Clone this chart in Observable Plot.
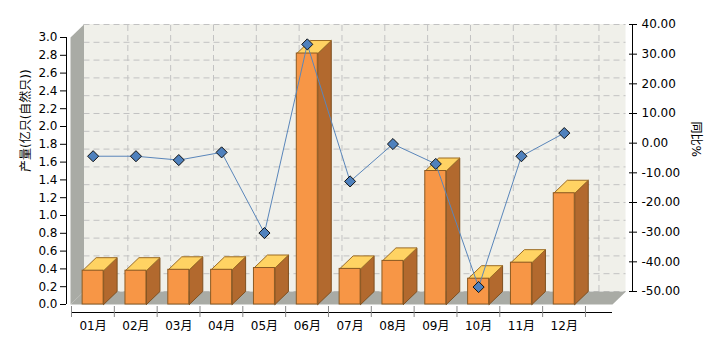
<!DOCTYPE html>
<html><head><meta charset="utf-8">
<script src="https://cdn.jsdelivr.net/npm/d3@7"></script>
<script src="https://cdn.jsdelivr.net/npm/@observablehq/plot@0.6"></script>
<style>body{margin:0;background:#fff}</style>
</head><body><div id="chart"></div>
<script>
// ---- data ----
const months = ["01月","02月","03月","04月","05月","06月","07月","08月","09月","10月","11月","12月"];
const output = [0.38,0.38,0.39,0.39,0.41,2.82,0.40,0.49,1.50,0.29,0.47,1.25];
const yoy = [-4.4,-4.4,-5.7,-3.1,-30.3,33.3,-12.9,-0.3,-7.0,-48.5,-4.4,3.4];
const leftTicks = [0,0.2,0.4,0.6,0.8,1.0,1.2,1.4,1.6,1.8,2.0,2.2,2.4,2.6,2.8,3.0];
const rightTicks = [-50,-40,-30,-20,-10,0,10,20,30,40];
const yTitle = "产量(亿只(自然只))";
const y2Title = "同比%";

// ---- layout ----
const W = 720, H = 340, mL = 66, mR = 88, mT = 37, mB = 28;
const x0px = 71, bandPx = 42.83, zeroPx = 304, yUnitPx = (zeroPx - mT) / 3;
const xDomain = [-(x0px - mL) / bandPx, (W - mR - x0px) / bandPx];
const yDomain = [-(H - mB - zeroPx) / yUnitPx, 3];
const DX = 13.5, DY = 13;                       // 3D depth (px)
const ddx = DX / bandPx, ddy = DY / yUnitPx;     // same depth in data units
const fx0 = -1 / bandPx, fx1 = (612 - x0px) / bandPx;
const barL = 0.26, barR = 0.75, mid = 0.505;
const r2l = d3.scaleLinear([-50, 40], [0, 3]);

const rows = months.map((m, i) => ({m, i, v: output[i], p: yoy[i]}));
const bounds = months.map((m, i) => i).concat([months.length]);
const poly = (id, pts) => [...pts, pts[0]].map(([x, y]) => ({id, x, y}));
const sides = rows.flatMap(d => poly(d.m, [[d.i+barR,0],[d.i+barR,d.v],[d.i+barR+ddx,d.v+ddy],[d.i+barR+ddx,ddy]]));
const tops = rows.flatMap(d => poly(d.m, [[d.i+barL,d.v],[d.i+barR,d.v],[d.i+barR+ddx,d.v+ddy],[d.i+barL+ddx,d.v+ddy]]));
const leftWall = poly("lw", [[fx0,0],[fx0,3],[fx0+ddx,3+ddy],[fx0+ddx,ddy]]);
const floor = poly("fl", [[fx0,0],[fx1,0],[fx1+ddx,ddy],[fx0+ddx,ddy]]);

const chart = Plot.plot({
  width: W, height: H,
  marginLeft: mL, marginRight: mR, marginTop: mT, marginBottom: mB,
  x: {type: "linear", domain: xDomain, axis: null},
  y: {type: "linear", domain: yDomain, axis: null},
  style: {fontFamily: "'DejaVu Sans', 'Noto Sans CJK SC', sans-serif", fontSize: "12px", background: "#fff", color: "#000"},
  marks: [
    Plot.rect([0], {x1: fx0, x2: fx1, y1: 0, y2: 3, dx: DX, dy: -DY, fill: "#f0f0ea"}),
    Plot.ruleY(leftTicks, {x1: fx0, x2: fx1, dx: DX, dy: -DY, stroke: "#c2c2c2", strokeDasharray: "6,4"}),
    Plot.ruleX(bounds.slice(1), {y1: 0, y2: 3, dx: DX, dy: -DY, stroke: "#c2c2c2", strokeDasharray: "6,4"}),
    Plot.line(leftWall, {x: "x", y: "y", z: "id", fill: "#a9aba5", stroke: "none"}),
    Plot.line(floor, {x: "x", y: "y", z: "id", fill: "#a9aba5", stroke: "none"}),
    Plot.line(sides, {x: "x", y: "y", z: "id", fill: "#b2692e", stroke: "#7f5020", strokeWidth: 1}),
    Plot.line(tops, {x: "x", y: "y", z: "id", fill: "#ffd363", stroke: "#9c6c24", strokeWidth: 1}),
    Plot.rect(rows, {x1: d => d.i + barL, x2: d => d.i + barR, y1: 0, y2: "v", fill: "#f79646", stroke: "#8c5a22", strokeWidth: 1}),
    // axes
    Plot.ruleX([xDomain[0]], {y1: 0, y2: 3, stroke: "#000"}),
    Plot.axisY(leftTicks, {anchor: "left", tickSize: 6, tickPadding: 3, tickFormat: d => d.toFixed(1), label: null}),
    Plot.ruleX([xDomain[1]], {y1: 0, y2: 3, dy: -DY, stroke: "#000"}),
    Plot.axisY(rightTicks.map(r2l), {anchor: "right", tickSize: 8, tickPadding: 5, dx: -4, dy: -DY, tickFormat: d => Math.round(r2l.invert(d)).toFixed(2), label: null}),
    Plot.ruleY([yDomain[0]], {x1: 0, x2: fx1, stroke: "#000"}),
    Plot.axisX(bounds, {anchor: "bottom", tickSize: 11, dy: -6, tickFormat: () => "", label: null, stroke: "#888"}),
    Plot.axisX(rows.map(d => d.i + mid), {anchor: "bottom", tickSize: 0, tickPadding: 9, tickFormat: d => months[Math.round(d - mid)], label: null}),
    Plot.text([yTitle], {frameAnchor: "left", dx: -40, dy: -3, rotate: -90}),
    Plot.text([y2Title], {frameAnchor: "right", dx: 63, dy: -18, rotate: 90}),
    // yoy line
    Plot.line(rows, {x: d => d.i + mid, y: d => r2l(d.p), dy: -DY, stroke: "#5a86ba", strokeWidth: 1}),
    Plot.dot(rows, {x: d => d.i + mid, y: d => r2l(d.p), dy: -DY, symbol: "diamond2", r: 5, fill: "#4f81bd", stroke: "#111", strokeWidth: 1})
  ]
});
document.getElementById("chart").appendChild(chart);
</script>
</body></html>
